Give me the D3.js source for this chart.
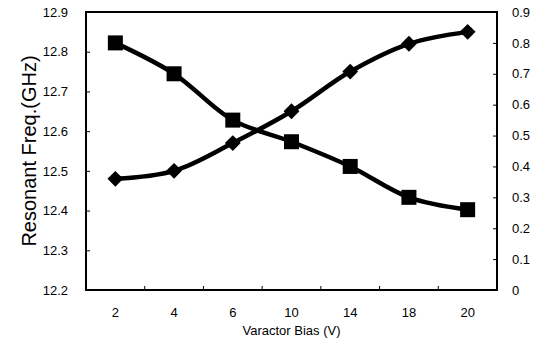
<!DOCTYPE html>
<html>
<head>
<meta charset="utf-8">
<script src="https://cdn.jsdelivr.net/npm/d3@7"></script>
<style>
  body { margin: 0; background: #fff; }
  text { font-family: "Liberation Sans", Arial, sans-serif; fill: #000; }
</style>
</head>
<body>
<div id="viz"></div>
<script>
var biasLabels = ["2", "4", "6", "10", "14", "18", "20"];
var freqValues = [12.48, 12.50, 12.57, 12.65, 12.75, 12.82, 12.85];
var rightValues = [0.80, 0.70, 0.55, 0.48, 0.40, 0.30, 0.26];
var leftTicks = [12.2, 12.3, 12.4, 12.5, 12.6, 12.7, 12.8, 12.9];
var rightTicks = [0, 0.1, 0.2, 0.3, 0.4, 0.5, 0.6, 0.7, 0.8, 0.9];

var width = 533,
    height = 354,
    plotL = 86, plotR = 497, plotT = 12, plotB = 290;

var svg = d3.select("#viz").append("svg")
    .attr("width", width)
    .attr("height", height);

var x = d3.scaleBand().domain(biasLabels).range([plotL, plotR]);
var yL = d3.scaleLinear().domain([12.2, 12.9]).range([plotB, plotT]);
var yR = d3.scaleLinear().domain([0, 0.9]).range([plotB, plotT]);

// axes, ticks pointing inward
var gL = svg.append("g").attr("transform", "translate(" + plotL + ",0)")
    .call(d3.axisRight(yL).tickValues(leftTicks).tickSize(4).tickFormat(d3.format(".1f")));
gL.selectAll("text").attr("x", -18).attr("text-anchor", "end");

var gR = svg.append("g").attr("transform", "translate(" + plotR + ",0)")
    .call(d3.axisLeft(yR).tickValues(rightTicks).tickSize(4)
      .tickFormat(function(d) { return d === 0 ? "0" : d3.format(".1f")(d); }));
gR.selectAll("text").attr("x", 15).attr("text-anchor", "start");

var gX = svg.append("g").attr("transform", "translate(0," + plotB + ")")
    .call(d3.axisTop(x).tickSize(0));
gX.selectAll("text").attr("y", 22).attr("dy", "0.35em");

// boundary ticks on x axis
svg.append("g").selectAll("line")
    .data(biasLabels.slice(1))
  .enter().append("line")
    .attr("x1", function(d) { return x(d); })
    .attr("x2", function(d) { return x(d); })
    .attr("y1", plotB).attr("y2", plotB - 4)
    .attr("stroke", "#000");

svg.selectAll(".domain").remove();
svg.selectAll(".tick line").attr("stroke", "#000");
svg.selectAll(".tick text")
    .style("font-size", "13px")
    .style("font-family", "Liberation Sans, Arial, sans-serif");

// plot frame
svg.append("rect")
    .attr("x", plotL).attr("y", plotT)
    .attr("width", plotR - plotL).attr("height", plotB - plotT)
    .attr("fill", "none").attr("stroke", "#000").attr("stroke-width", 2);

var cx = function(i) { return x(biasLabels[i]) + x.bandwidth() / 2; };

var lineL = d3.line()
    .x(function(d, i) { return cx(i); })
    .y(function(d) { return yL(d); })
    .curve(d3.curveCatmullRom.alpha(0.5));
var lineR = d3.line()
    .x(function(d, i) { return cx(i); })
    .y(function(d) { return yR(d); })
    .curve(d3.curveCatmullRom.alpha(0.5));

svg.append("path").datum(freqValues)
    .attr("d", lineL).attr("fill", "none").attr("stroke", "#000").attr("stroke-width", 4.5);
svg.append("path").datum(rightValues)
    .attr("d", lineR).attr("fill", "none").attr("stroke", "#000").attr("stroke-width", 4.5);

// diamond markers
svg.append("g").selectAll("path")
    .data(freqValues)
  .enter().append("path")
    .attr("transform", function(d, i) { return "translate(" + cx(i) + "," + yL(d) + ")"; })
    .attr("d", d3.symbol().type(d3.symbolDiamond2).size(160))
    .attr("fill", "#000");

// square markers
svg.append("g").selectAll("rect")
    .data(rightValues)
  .enter().append("rect")
    .attr("x", function(d, i) { return cx(i) - 7.5; })
    .attr("y", function(d) { return yR(d) - 7.5; })
    .attr("width", 15).attr("height", 15)
    .attr("fill", "#000");

// axis titles
svg.append("text")
    .attr("transform", "translate(29," + ((plotT + plotB) / 2) + ") rotate(-90)")
    .attr("text-anchor", "middle")
    .attr("dy", "0.35em")
    .style("font-size", "20px")
    .text("Resonant Freq.(GHz)");

svg.append("text")
    .attr("x", (plotL + plotR) / 2)
    .attr("y", 335)
    .attr("text-anchor", "middle")
    .style("font-size", "13px")
    .text("Varactor Bias (V)");
</script>
</body>
</html>
